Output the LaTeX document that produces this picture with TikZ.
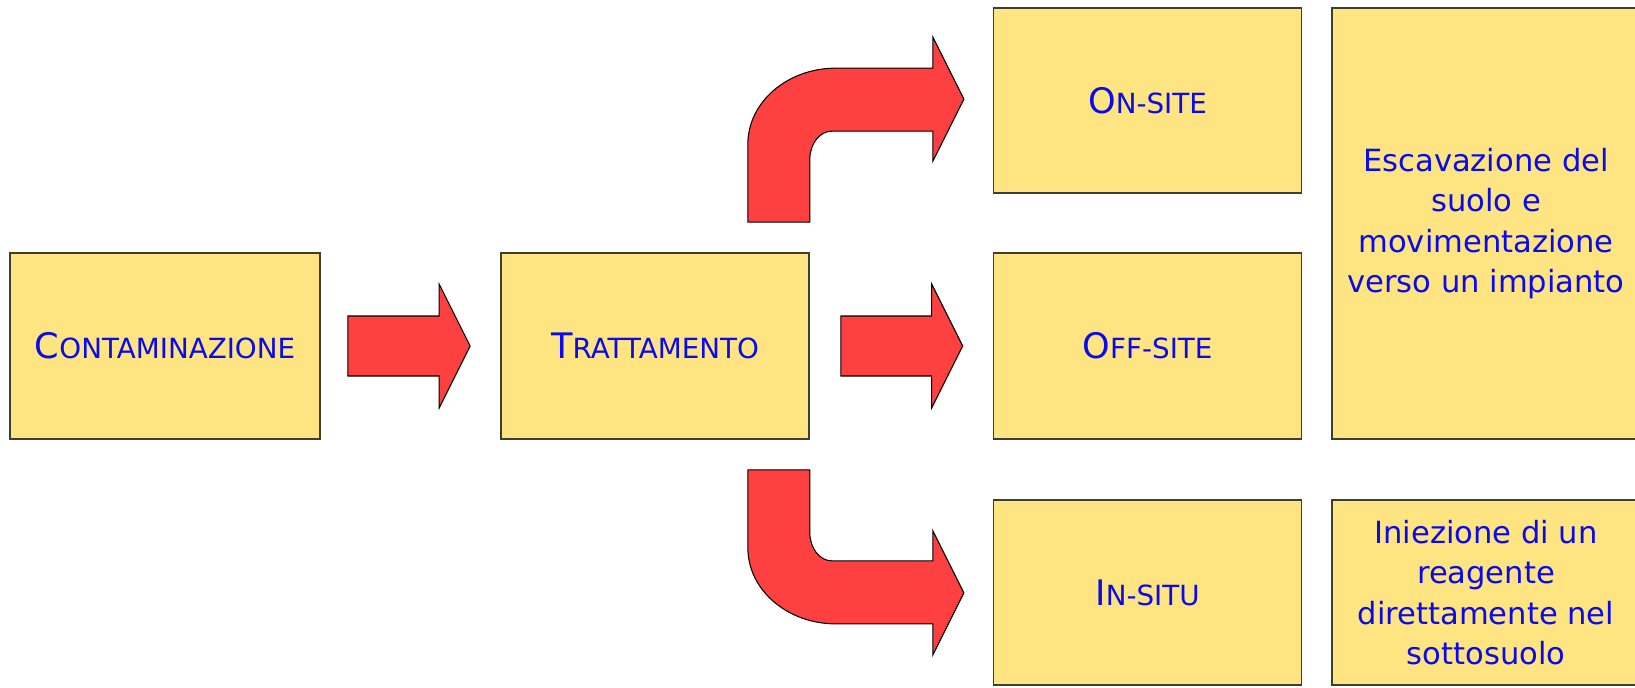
\documentclass[tikz,border=0pt]{standalone}
\usepackage{fontspec}
\setmainfont{DejaVu Sans}
\usetikzlibrary{calc}

\definecolor{boxfill}{RGB}{255,228,130}
\definecolor{boxline}{RGB}{64,62,48}
\definecolor{arrowred}{RGB}{255,64,64}
\definecolor{textblue}{RGB}{10,10,235}

\newcommand{\capsc}[2]{{\fontsize{20}{24}\selectfont #1}{\fontsize{15.8}{19}\selectfont #2}}
\newcommand{\flatarrow}[2]{%
  \draw[redarrow] ($(#1)+(0,-30)$) -- ($(#2)+(-31,-30)$) -- ($(#2)+(-31,-62)$) -- (#2)
    -- ($(#2)+(-31,62)$) -- ($(#2)+(-31,30)$) -- ($(#1)+(0,30)$) -- cycle;}

\tikzset{
  box/.style={draw=boxline, fill=boxfill, line width=1pt, minimum width=6.16cm,
    minimum height=3.72cm, text=textblue, align=center, font=\fontsize{17.4}{23}\selectfont},
  redarrow/.style={draw=black, fill=arrowred, line width=0.6pt, line join=miter}
}

\begin{document}
\begin{tikzpicture}[x=0.02cm, y=-0.02cm]
      \useasboundingbox (0,0) rectangle (1635,687);
      \clip (0,0) rectangle (1635,687);

      \node[box, minimum width=6.2cm] (cont) at (165,346) {\capsc{C}{ONTAMINAZIONE}};
      \node[box] (tratt) at (655,346) {\capsc{T}{RATTAMENTO}};
      \node[box, minimum height=3.7cm] (onsite) at (1147.5,100.5) {\capsc{O}{N-SITE}};
      \node[box] (offsite) at (1147.5,346) {\capsc{O}{FF-SITE}};
      \node[box, minimum height=3.7cm] (insitu) at (1147.5,592.5) {\capsc{I}{N-SITU}};
      \node[box, minimum height=8.62cm] (escav) at (1486,223.5)
        {Escavazione del\\suolo e\\movimentazione\\verso un impianto};
      \node[box, minimum height=3.7cm] (iniez) at (1486,592.5)
        {Iniezione di un\\reagente\\direttamente nel\\sottosuolo};

      \coordinate (a1start) at ($(cont.east)+(27,0)$);
      \coordinate (a1tip) at ($(tratt.west)+(-30,0)$);
      \coordinate (a2start) at ($(tratt.east)+(31,0)$);
      \coordinate (a2tip) at ($(offsite.west)+(-30,0)$);
      \flatarrow{a1start}{a1tip}
      \flatarrow{a2start}{a2tip}

      \begin{scope}[shift={(tratt.north east)}]
        \draw[redarrow] (-62,-30) -- (-62,-108) arc[start angle=180, end angle=270, x radius=88, y radius=76]
          -- (123,-184) -- (123,-215) -- (154,-153) -- (123,-91) -- (123,-121) -- (22,-121)
          arc[start angle=270, end angle=180, x radius=22, y radius=28] -- (0,-30) -- cycle;
      \end{scope}

      \begin{scope}[shift={(tratt.south east)}]
        \draw[redarrow] (-62,30) -- (-62,108) arc[start angle=180, end angle=90, x radius=88, y radius=76]
          -- (123,184) -- (123,215) -- (154,153) -- (123,91) -- (123,121) -- (22,121)
          arc[start angle=90, end angle=180, x radius=22, y radius=28] -- (0,30) -- cycle;
      \end{scope}
\end{tikzpicture}
\end{document}
